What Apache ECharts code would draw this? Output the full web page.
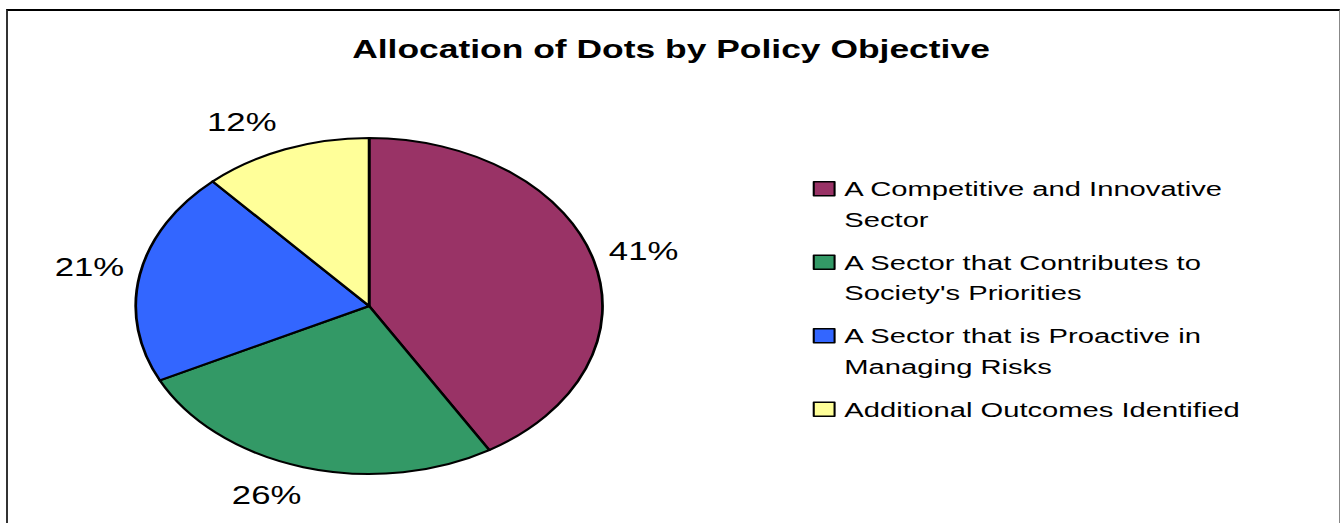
<!DOCTYPE html>
<html><head><meta charset="utf-8">
<script src="https://cdn.jsdelivr.net/npm/echarts@6/dist/echarts.min.js"></script>
<style>
html,body{margin:0;padding:0;background:#fff;width:1342px;height:523px;overflow:hidden;}
#frame{position:absolute;left:6px;top:9px;width:1334px;height:600px;border-top:2px solid #000;border-left:2px solid #333;border-right:1px solid #888;box-sizing:border-box;}
#chart{position:absolute;left:0;top:0;width:966px;height:523px;transform:scaleX(1.38923);transform-origin:0 0;}
</style></head>
<body><div id="frame"></div><div id="chart"></div>
<script>
const titleText = 'Allocation of Dots by Policy Objective';
const categories = [
  'A Competitive and Innovative Sector',
  "A Sector that Contributes to Society's Priorities",
  'A Sector that is Proactive in Managing Risks',
  'Additional Outcomes Identified'
];
const legendLabels = [
  'A Competitive and Innovative\nSector',
  "A Sector that Contributes to\nSociety's Priorities",
  'A Sector that is Proactive in\nManaging Risks',
  'Additional Outcomes Identified'
];
// shares (percent) read from the slice boundaries; shown rounded to whole percent
const values = [41.4, 26.3, 20.6, 11.7];
const colors = ['#993366', '#339966', '#3366FF', '#FFFF99'];

// label placement nudges (style only, in chart px)
const LABEL_NUDGE = [[0, 0], [-16, -7], [0, 0], [-18, 8]];

const FONT = "'Liberation Sans', Arial, sans-serif";
const pieData = categories.map((c, i) => ({ name: c, value: values[i], itemStyle: { color: colors[i] } }));
const labelData = categories.map((c, i) => ({ name: c, value: values[i] }));

const chart = echarts.init(document.getElementById('chart'), null, { renderer: 'svg' });
chart.setOption({
  animation: false,
  backgroundColor: 'transparent',
  title: {
    text: titleText,
    left: 'center',
    top: 36,
    padding: 0,
    textStyle: { fontFamily: FONT, fontSize: 25.5, fontWeight: 'bold', color: '#000' }
  },
  legend: {
    orient: 'vertical',
    left: 585,
    top: 143,
    padding: 0,
    itemGap: -18,
    itemWidth: 15,
    itemHeight: 14,
    icon: 'rect',
    selectedMode: false,
    data: categories,
    itemStyle: { borderColor: '#000', borderWidth: 1.5 },
    textStyle: { fontFamily: FONT, fontSize: 21, lineHeight: 30.5, color: '#000', padding: [0, 0, 0, 2] },
    formatter: function (name) {
      const lbl = legendLabels[categories.indexOf(name)];
      return '\n' + lbl + (lbl.indexOf('\n') < 0 ? '\n' : '');
    }
  },
  series: [
    {
      type: 'pie',
      center: [265.7, 306],
      radius: 168,
      startAngle: 90,
      clockwise: true,
      label: { show: false },
      labelLine: { show: false },
      emphasis: { disabled: true },
      itemStyle: { borderColor: '#000', borderWidth: 2 },
      data: pieData
    },
    {
      type: 'pie',
      center: [265.7, 306],
      radius: [168, 236],
      startAngle: 90,
      clockwise: true,
      silent: true,
      z: 1,
      percentPrecision: 0,
      itemStyle: { color: 'rgba(0,0,0,0)', borderWidth: 0 },
      emphasis: { disabled: true },
      labelLine: { show: false },
      label: {
        show: true,
        position: 'inside',
        formatter: '{d}%',
        fontFamily: FONT,
        fontSize: 25,
        color: '#000'
      },
      labelLayout: function (params) {
        const n = LABEL_NUDGE[params.dataIndex] || [0, 0];
        return { dx: n[0], dy: n[1] };
      },
      data: labelData
    }
  ]
});
</script>
</body></html>
